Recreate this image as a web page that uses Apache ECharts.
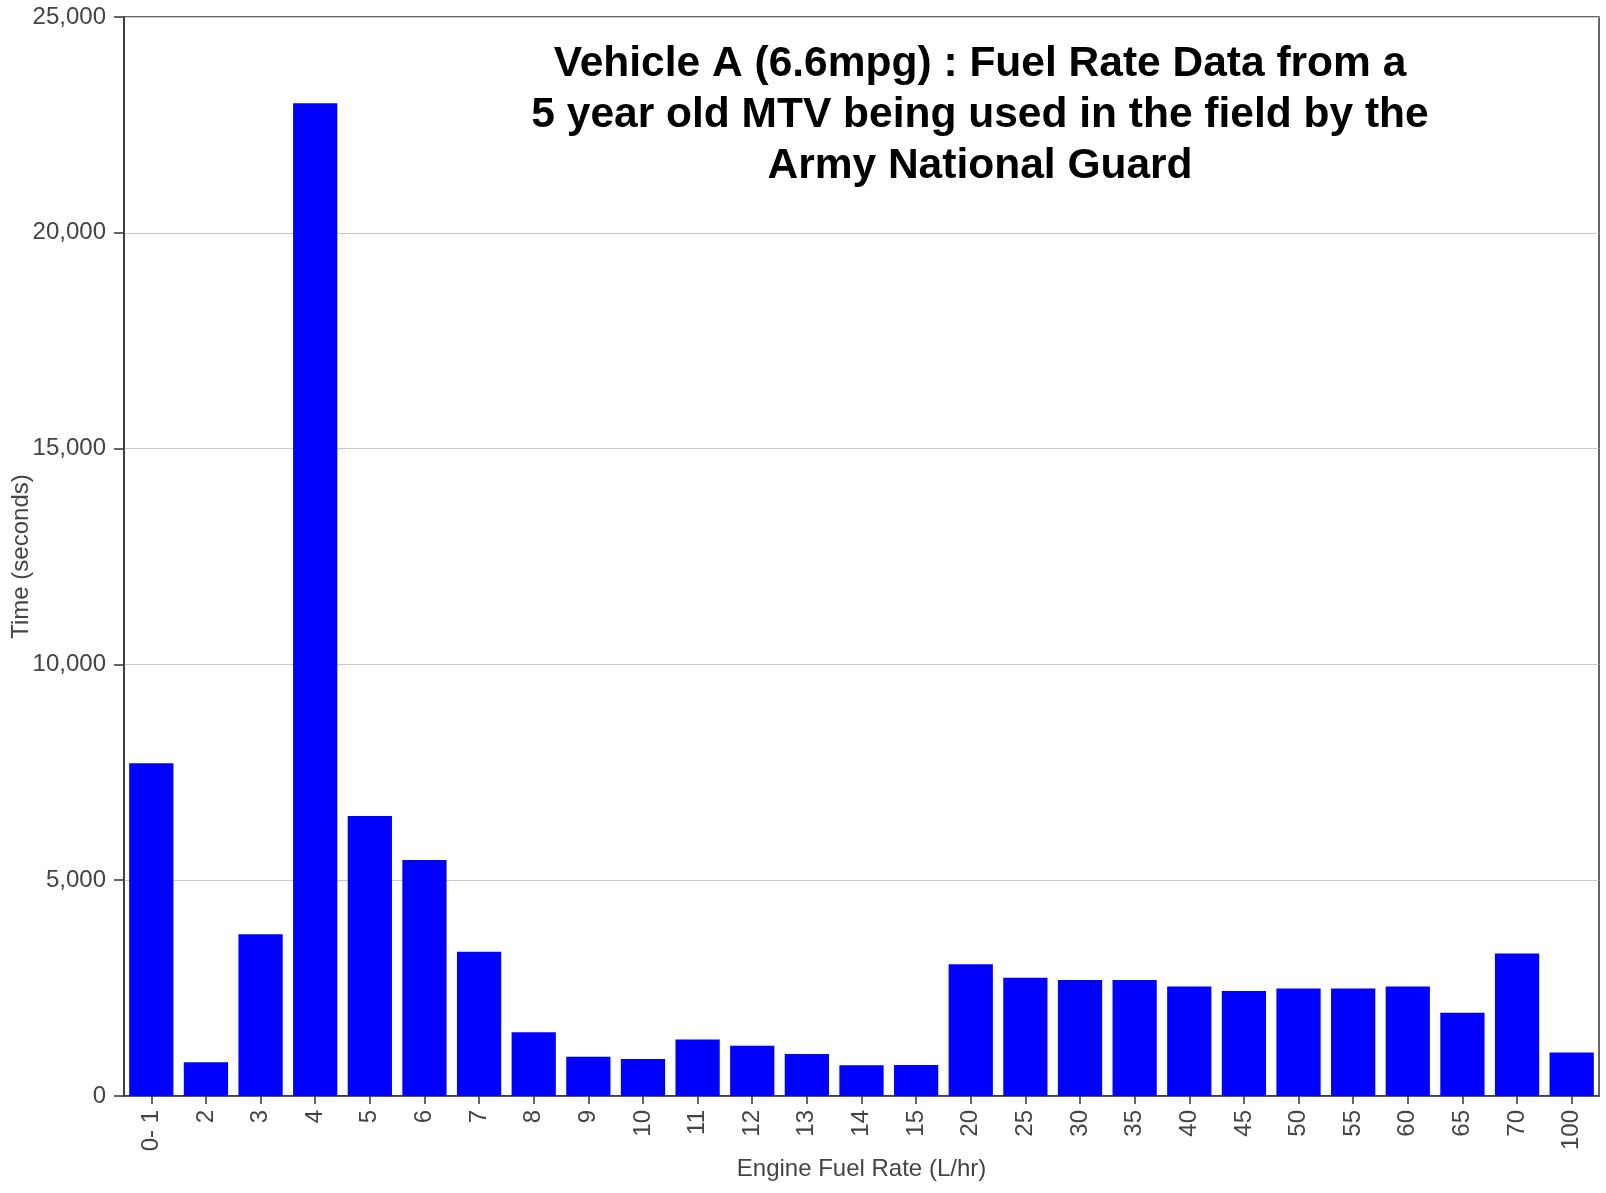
<!DOCTYPE html>
<html>
<head>
<meta charset="utf-8">
<script src="https://cdn.jsdelivr.net/npm/echarts@6/dist/echarts.min.js"></script>
<style>
html,body{margin:0;padding:0;background:#fff;}
#chart{width:1606px;height:1193px;}
</style>
</head>
<body>
<div id="chart"></div>
<script>
const categories = ["0- 1","2","3","4","5","6","7","8","9","10","11","12","13","14","15","20","25","30","35","40","45","50","55","60","65","70","100"];
const timeSeconds = [7710,780,3750,23000,6490,5470,3340,1475,910,860,1310,1165,975,715,718,3050,2740,2690,2690,2535,2435,2490,2490,2535,1930,3300,1010];
const yTicks = { min: 0, max: 25000, interval: 5000 };
const titleText = "Vehicle A (6.6mpg) : Fuel Rate Data from a\n5 year old MTV being used in the field by the\nArmy National Guard";
const xName = "Engine Fuel Rate (L/hr)";
const yName = "Time (seconds)";

const chart = echarts.init(document.getElementById('chart'), null, {renderer:'canvas'});
const font = "'Liberation Sans', Arial, sans-serif";
chart.setOption({
  animation: false,
  backgroundColor: '#fff',
  title: {
    text: titleText,
    left: 975,
    top: 34,
    textAlign: 'center',
    textStyle: { fontSize: 42.5, fontWeight: 'bold', color: '#000', fontFamily: font, lineHeight: 51 }
  },
  grid: { left: 124, right: 7, top: 17, bottom: 97, outerBoundsMode: 'none', containLabel: false,
    show: true, borderColor: '#333', borderWidth: 1.5, backgroundColor: 'transparent' },
  xAxis: {
    type: 'category',
    data: categories,
    name: xName,
    nameLocation: 'middle',
    nameGap: 61,
    nameMoveOverlap: false,
    nameTextStyle: { fontSize: 24, color: '#444', fontFamily: font },
    axisLine: { show: true, lineStyle: { color: '#333', width: 1.5 } },
    axisTick: { show: true, alignWithLabel: true, length: 8, lineStyle: { color: '#333', width: 1.5 } },
    axisLabel: { rotate: 90, margin: 14, fontSize: 24, color: '#444', fontFamily: font, interval: 0 }
  },
  yAxis: {
    type: 'value',
    min: yTicks.min, max: yTicks.max, interval: yTicks.interval,
    name: yName,
    nameLocation: 'middle',
    nameGap: 91,
    nameMoveOverlap: false,
    nameTextStyle: { fontSize: 24, color: '#444', fontFamily: font },
    axisLine: { show: true, lineStyle: { color: '#333', width: 1.5 } },
    axisTick: { show: true, length: 10, lineStyle: { color: '#333', width: 1.5 } },
    axisLabel: { margin: 18, fontSize: 24, color: '#444', fontFamily: font,
      formatter: v => v.toLocaleString('en-US') },
    splitLine: { show: true, lineStyle: { color: '#c8c8c8', width: 1.2 } }
  },
  series: [{
    type: 'bar',
    data: timeSeconds,
    barCategoryGap: '19%',
    itemStyle: { color: '#0000ff' }
  }]
});
</script>
</body>
</html>
